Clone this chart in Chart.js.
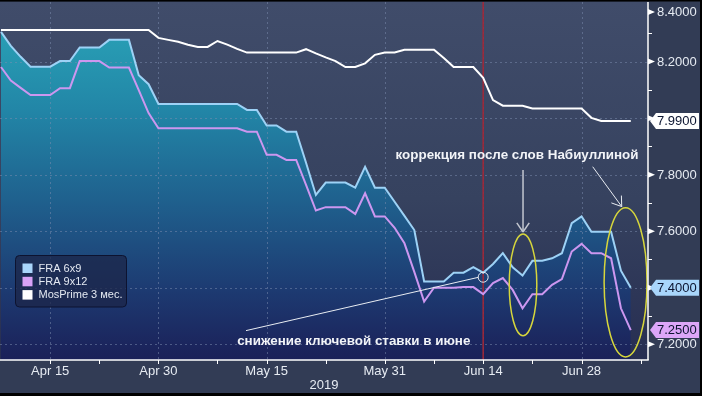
<!DOCTYPE html>
<html>
<head>
<meta charset="utf-8">
<script src="https://cdn.jsdelivr.net/npm/chart.js@4.4.1/dist/chart.umd.min.js"></script>
<style>
  html, body { margin: 0; padding: 0; background: #323c55; }
  #chart { display: block; }
</style>
</head>
<body>
<canvas id="chart" width="702" height="396"></canvas>
<script>
// x = business-day index, 0 = Apr 8 2019
const tickIdx = [5, 16, 27, 39, 49, 59];
const tickLabels = ['Apr 15', 'Apr 30', 'May 15', 'May 31', 'Jun 14', 'Jun 28'];
const minorIdx = [10, 22, 33, 44, 54, 65];
const yTicks = [7.2, 7.4, 7.6, 7.8, 8.0, 8.2, 8.4];
const yMinor = [7.3, 7.5, 7.7, 7.9, 8.1, 8.3];
const yearLabel = '2019';

const fra6x9 = [
  8.305, 8.256, 8.217, 8.182, 8.182, 8.182, 8.202, 8.202, 8.25, 8.25,
  8.25, 8.277, 8.277, 8.277, 8.152, 8.12, 8.05, 8.05, 8.05, 8.05,
  8.05, 8.05, 8.05, 8.05, 8.05, 8.029, 8.029, 7.974, 7.974, 7.952,
  7.952, 7.842, 7.728, 7.772, 7.772, 7.772, 7.754, 7.828, 7.754, 7.754,
  7.704, 7.654, 7.604, 7.422, 7.422, 7.422, 7.453, 7.453, 7.473, 7.453,
  7.484, 7.522, 7.472, 7.443, 7.495, 7.495, 7.504, 7.522, 7.628, 7.652,
  7.598, 7.598, 7.598, 7.46, 7.40
];
const fra9x12 = [
  8.181, 8.133, 8.107, 8.082, 8.082, 8.082, 8.106, 8.106, 8.202, 8.202,
  8.202, 8.179, 8.179, 8.179, 8.099, 8.018, 7.964, 7.964, 7.964, 7.964,
  7.964, 7.964, 7.964, 7.964, 7.964, 7.952, 7.952, 7.87, 7.87, 7.852,
  7.852, 7.764, 7.673, 7.685, 7.685, 7.685, 7.661, 7.734, 7.652, 7.652,
  7.612, 7.557, 7.456, 7.351, 7.40, 7.40, 7.40, 7.402, 7.402, 7.377,
  7.416, 7.434, 7.392, 7.327, 7.377, 7.377, 7.41, 7.43, 7.528, 7.555,
  7.522, 7.522, 7.504, 7.327, 7.25
];
const mosprime = [
  8.312, 8.312, 8.312, 8.312, 8.312, 8.312, 8.312, 8.312, 8.312, 8.312,
  8.312, 8.312, 8.312, 8.312, 8.312, 8.312, 8.284, 8.277, 8.27, 8.26,
  8.252, 8.252, 8.273, 8.26, 8.245, 8.232, 8.232, 8.232, 8.232, 8.232,
  8.232, 8.244, 8.229, 8.215, 8.202, 8.181, 8.181, 8.194, 8.224, 8.232,
  8.232, 8.242, 8.242, 8.242, 8.242, 8.213, 8.181, 8.181, 8.181, 8.143,
  8.064, 8.044, 8.044, 8.044, 8.034, 8.034, 8.034, 8.034, 8.034, 8.034,
  8.001, 7.99, 7.99, 7.99, 7.99
];

const seriesNames = ['FRA 6x9', 'FRA 9x12', 'MosPrime 3 мес.'];
const lineColors = ['#9dd2f6', '#cc97f0', '#ffffff'];
const legendColors = ['#a9d6fb', '#d9a2f7', '#ffffff'];
const boxColors = ['#a9d6fb', '#dca6f8', '#ffffff'];

const toPoints = arr => arr.map((v, i) => ({ x: i, y: v }));

const textColor = '#e6ebf2';
const gridColor = 'rgba(125,142,175,0.5)';
const font13 = '13px "Liberation Sans", Arial, sans-serif';

function line(ctx, x1, y1, x2, y2) {
    ctx.beginPath();
    ctx.moveTo(x1, y1);
    ctx.lineTo(x2, y2);
    ctx.stroke();
}

function arrow(ctx, x1, y1, x2, y2, color, width) {
    const ang = Math.atan2(y2 - y1, x2 - x1);
    ctx.strokeStyle = color;
    ctx.lineWidth = width;
    line(ctx, x1, y1, x2, y2);
    [0.6, -0.6].forEach(d => {
        line(ctx, x2, y2, x2 - 11 * Math.cos(ang + d), y2 - 11 * Math.sin(ang + d));
    });
}

const decor = {
    id: 'decor',
    beforeDraw(chart) {
        const { ctx, chartArea: a } = chart;
        const g = ctx.createLinearGradient(0, a.top, 0, a.bottom);
        g.addColorStop(0, '#404c6a');
        g.addColorStop(0.55, '#36425f');
        g.addColorStop(1, '#272e52');
        ctx.save();
        ctx.fillStyle = g;
        ctx.fillRect(a.left, a.top, a.right - a.left, a.bottom - a.top);
        ctx.restore();
    },
    beforeDatasetsDraw(chart) {
        const { ctx, chartArea: a, scales: { x, y } } = chart;
        ctx.save();
        ctx.strokeStyle = gridColor;
        ctx.lineWidth = 1;
        ctx.setLineDash([2, 3]);
        yTicks.forEach(v => {
            const py = Math.round(y.getPixelForValue(v)) + 0.5;
            if (py > a.top + 8) line(ctx, a.left, py, a.right, py);
        });
        tickIdx.forEach(v => {
            const px = Math.round(x.getPixelForValue(v)) + 0.5;
            line(ctx, px, a.top, px, a.bottom);
        });
        ctx.setLineDash([]);
        // Jun 14 marker
        ctx.strokeStyle = '#a02838';
        ctx.lineWidth = 1.5;
        const rx = x.getPixelForValue(49);
        line(ctx, rx, a.top, rx, a.bottom);
        ctx.restore();
    },
    afterDatasetsDraw(chart) {
        const { ctx, scales: { x, y } } = chart;
        ctx.save();
        // key-rate cut annotation
        ctx.strokeStyle = '#e8ecf2';
        ctx.lineWidth = 1;
        line(ctx, x.getPixelForValue(24.9), y.getPixelForValue(7.248),
             x.getPixelForValue(48.5), y.getPixelForValue(7.4365));
        ctx.beginPath();
        ctx.arc(x.getPixelForValue(49), y.getPixelForValue(7.437), 5, 0, Math.PI * 2);
        ctx.stroke();

        // arrows
        arrow(ctx, x.getPixelForValue(53.05), y.getPixelForValue(7.816),
              x.getPixelForValue(53.05), y.getPixelForValue(7.597), '#c3c7d0', 1.5);
        arrow(ctx, x.getPixelForValue(60.13), y.getPixelForValue(7.828),
              x.getPixelForValue(63.08), y.getPixelForValue(7.687), '#e8ecf2', 1);

        // ellipses
        ctx.strokeStyle = '#d6d63c';
        ctx.lineWidth = 1.5;
        [[53.05, 7.41, 1.4, 0.18], [63.47, 7.419, 2.18, 0.264]].forEach(e => {
            const cx = x.getPixelForValue(e[0]);
            const cy = y.getPixelForValue(e[1]);
            const rw = x.getPixelForValue(e[0] + e[2]) - cx;
            const rh = cy - y.getPixelForValue(e[1] + e[3]);
            ctx.beginPath();
            ctx.ellipse(cx, cy, rw, rh, 0, 0, Math.PI * 2);
            ctx.stroke();
        });

        // annotation texts
        ctx.fillStyle = '#f2f4f8';
        ctx.font = 'bold 13.4px "Liberation Sans", Arial, sans-serif';
        ctx.textBaseline = 'middle';
        ctx.textAlign = 'left';
        ctx.fillText('коррекция после слов Набиуллиной', x.getPixelForValue(40.1), y.getPixelForValue(7.87));
        ctx.fillText('снижение ключевой ставки в июне', x.getPixelForValue(24.0), y.getPixelForValue(7.209));
        ctx.restore();
    },
    afterDraw(chart) {
        const { ctx, chartArea: a, scales: { x, y } } = chart;
        ctx.save();
        // axis lines
        ctx.strokeStyle = '#ffffff';
        ctx.lineWidth = 1.5;
        line(ctx, a.left, a.bottom, a.right + 0.75, a.bottom);
        line(ctx, a.right, a.top, a.right, a.bottom);
        ctx.lineWidth = 1;
        tickIdx.concat(minorIdx).forEach(v => {
            const px = Math.round(x.getPixelForValue(v)) + 0.5;
            if (px <= a.right) line(ctx, px, a.bottom, px, a.bottom + 4);
        });
        yMinor.forEach(v => {
            const py = Math.round(y.getPixelForValue(v)) + 0.5;
            line(ctx, a.right, py, a.right + 4, py);
        });

        // y labels with pointer ticks
        ctx.font = font13;
        ctx.textBaseline = 'middle';
        ctx.textAlign = 'left';
        yTicks.forEach(v => {
            const py = Math.max(y.getPixelForValue(v), a.top + 10);
            ctx.fillStyle = '#ffffff';
            ctx.beginPath();
            ctx.moveTo(a.right, py - 3);
            ctx.lineTo(a.right + 7, py);
            ctx.lineTo(a.right, py + 3);
            ctx.closePath();
            ctx.fill();
            ctx.fillStyle = textColor;
            ctx.fillText(v.toFixed(4), a.right + 9, py + 0.5);
        });

        // last-value boxes
        [mosprime, fra6x9, fra9x12].forEach((arr, k) => {
            const idx = [2, 0, 1][k];
            const last = arr[arr.length - 1];
            const py = y.getPixelForValue(last);
            ctx.fillStyle = boxColors[idx];
            ctx.beginPath();
            ctx.moveTo(a.right + 2, py);
            ctx.lineTo(a.right + 8, py - 8);
            ctx.lineTo(a.right + 51, py - 8);
            ctx.lineTo(a.right + 51, py + 8);
            ctx.lineTo(a.right + 8, py + 8);
            ctx.closePath();
            ctx.fill();
            ctx.fillStyle = '#0b1430';
            ctx.fillText(last.toFixed(4), a.right + 9, py + 0.5);
        });

        // legend
        const lx = a.left + 15.5, ly = a.top + 253.5;
        ctx.fillStyle = 'rgba(28,38,72,0.75)';
        ctx.strokeStyle = '#0d1330';
        ctx.lineWidth = 1;
        ctx.beginPath();
        ctx.roundRect(lx, ly, 111, 51.5, 4);
        ctx.fill();
        ctx.stroke();
        ctx.font = '11px "Liberation Sans", Arial, sans-serif';
        seriesNames.forEach((name, k) => {
            const ry = ly + 8 + k * 13.3;
            ctx.fillStyle = legendColors[k];
            ctx.fillRect(lx + 7, ry, 10, 9.5);
            ctx.fillStyle = '#e4e9f2';
            ctx.fillText(name, lx + 23, ry + 5);
        });

        // frame
        ctx.fillStyle = '#000000';
        ctx.fillRect(0, 0, chart.width, 1.5);
        ctx.fillRect(chart.width - 2, 0, 2, chart.height);
        ctx.fillRect(0, chart.height - 3, chart.width, 3);
        ctx.restore();
    }
};

const chart = new Chart(document.getElementById('chart'), {
    type: 'line',
    data: {
        datasets: [
            {
                label: seriesNames[0],
                data: toPoints(fra6x9),
                borderColor: lineColors[0],
                borderWidth: 2,
                pointRadius: 0,
                tension: 0,
                fill: 'start',
                order: 3,
                backgroundColor: c => {
                    const a = c.chart.chartArea;
                    if (!a) return '#1f6f9a';
                    const g = c.chart.ctx.createLinearGradient(0, a.top, 0, a.bottom);
                    g.addColorStop(0, '#2ba8ba');
                    g.addColorStop(0.3, '#2286a7');
                    g.addColorStop(0.55, '#1f618e');
                    g.addColorStop(0.8, '#1d3b72');
                    g.addColorStop(1, '#1b2058');
                    return g;
                }
            },
            {
                label: seriesNames[1],
                data: toPoints(fra9x12),
                borderColor: lineColors[1],
                borderWidth: 2,
                pointRadius: 0,
                tension: 0,
                fill: false,
                order: 2
            },
            {
                label: seriesNames[2],
                data: toPoints(mosprime),
                borderColor: lineColors[2],
                borderWidth: 2,
                pointRadius: 0,
                tension: 0,
                fill: false,
                order: 1
            }
        ]
    },
    options: {
        responsive: false,
        animation: false,
        events: [],
        layout: { padding: { left: 0, right: 2, top: 2, bottom: 3 } },
        plugins: {
            legend: { display: false },
            tooltip: { enabled: false },
            filler: { drawTime: 'beforeDatasetsDraw' }
        },
        scales: {
            x: {
                type: 'linear',
                min: -0.1,
                max: 65.75,
                afterBuildTicks: s => { s.ticks = tickIdx.map(v => ({ value: v })); },
                afterFit: s => { s.height = 33; },
                grid: { display: false, drawTicks: false },
                border: { display: false },
                ticks: {
                    color: textColor,
                    font: { family: '"Liberation Sans", Arial, sans-serif', size: 13 },
                    padding: 4,
                    maxRotation: 0,
                    autoSkip: false,
                    callback: v => tickLabels[tickIdx.indexOf(v)]
                },
                title: {
                    display: true,
                    text: yearLabel,
                    color: textColor,
                    font: { family: '"Liberation Sans", Arial, sans-serif', size: 13 },
                    padding: { top: 0, bottom: 0 }
                }
            },
            y: {
                position: 'right',
                min: 7.144,
                max: 8.411,
                afterFit: s => { s.width = 52; },
                grid: { display: false, drawTicks: false },
                border: { display: false },
                ticks: { display: false }
            }
        }
    },
    plugins: [decor]
});
</script>
</body>
</html>
